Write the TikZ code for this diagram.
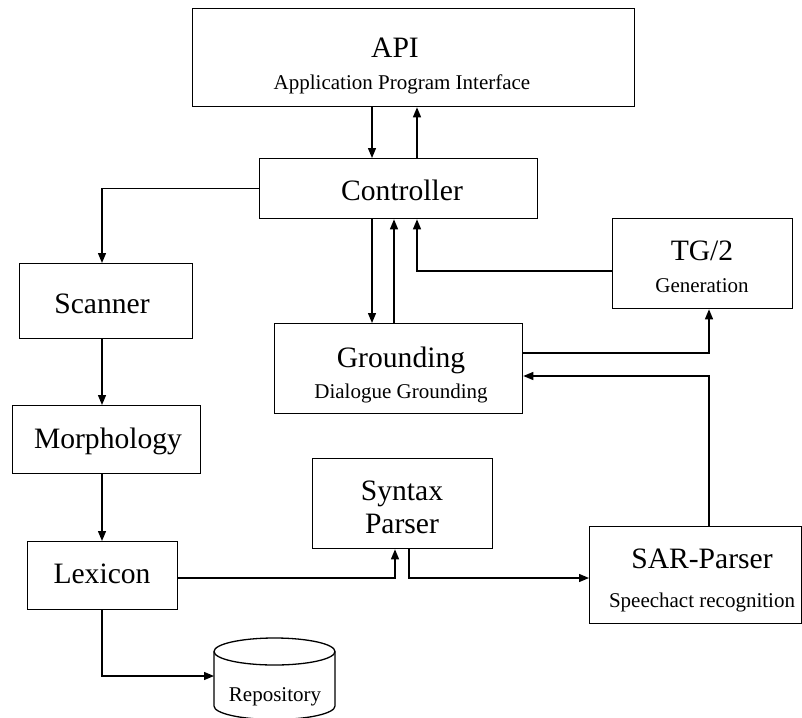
\documentclass[tikz,border=0pt]{standalone}
\usepackage{fontspec}
\setmainfont{Liberation Serif}
\usetikzlibrary{arrows.meta}

\begin{document}
\begin{tikzpicture}[x=1pt,y=-1pt,
  box/.style={draw, line width=1.3pt, rectangle, inner sep=0pt, anchor=north west},
  big/.style={font=\fontsize{29.6}{32}\selectfont, anchor=base, inner sep=0pt},
  small/.style={font=\fontsize{21}{24}\selectfont, anchor=base, inner sep=0pt},
  arr/.style={line width=1.3pt, -{Triangle[length=10pt,width=8pt]}},
  link/.style={line width=1.3pt}]
\useasboundingbox (0,0) rectangle (802,717);
\clip (0,0) rectangle (802,717);

% module boxes
\node[box, minimum width=442, minimum height=98] (api)   at (192,8)   {};
\node[box, minimum width=278, minimum height=60] (ctrl)  at (259,158) {};
\node[box, minimum width=173, minimum height=75] (scan)  at (19,263)  {};
\node[box, minimum width=188, minimum height=68] (morph) at (12,405)  {};
\node[box, minimum width=150, minimum height=68] (lex)   at (27,541)  {};
\node[box, minimum width=180, minimum height=90] (syn)   at (312,458) {};
\node[box, minimum width=212, minimum height=97] (sar)   at (589,526) {};
\node[box, minimum width=248, minimum height=90] (grd)   at (274,323) {};
\node[box, minimum width=180, minimum height=90] (tg)    at (612,218) {};

% labels
\node[big]   (apiT)  at (395,58)  {API};
\node[small] (apiS)  at (402,89)  {Application Program Interface};
\node[big]   (ctrlT) at (402,200) {Controller};
\node[big]   (scanT) at (102,313) {Scanner};
\node[big]   (morT)  at (108,448) {Morphology};
\node[big]   (lexT)  at (102,583) {Lexicon};
\node[big]   (synA)  at (402,500) {Syntax};
\node[big]   (synB)  at (402,533) {Parser};
\node[big]   (sarT)  at (702,568) {SAR-Parser};
\node[small] (sarS)  at (702,607) {Speechact recognition};
\node[big]   (grdT)  at (401,367) {Grounding};
\node[small] (grdS)  at (401,398) {Dialogue Grounding};
\node[big]   (tgT)   at (702,260) {TG/2};
\node[small] (tgS)   at (702,292) {Generation};

% repository cylinder
\draw[link, fill=white] (214,651.5) -- (214,706)
  arc[start angle=180, end angle=360, x radius=60.5pt, y radius=13.5pt] -- (335,651.5);
\draw[link, fill=white] (274.5,651.5) ellipse [x radius=60.5pt, y radius=13.5pt];
\node[small] (repoT) at (275,701) {Repository};
\coordinate (repoW) at (214,676);

% routing columns and rows
\coordinate (colA) at (102,0);
\coordinate (colB) at (372,0);
\coordinate (colC) at (394,0);
\coordinate (colD) at (417,0);
\coordinate (colE) at (395,0);
\coordinate (colF) at (409,0);
\coordinate (colG) at (709,0);
\coordinate (rowTG)  at (0,271);
\coordinate (rowGT)  at (0,353);
\coordinate (rowSG)  at (0,376);
\coordinate (rowLex) at (0,578);

% connectors
\draw[arr] (api.south -| colB) -- (ctrl.north -| colB);
\draw[arr] (ctrl.north -| colD) -- (api.south -| colD);
\draw[arr] (ctrl.west) -| (scan.north -| colA);
\draw[arr] (scan.south -| colA) -- (morph.north -| colA);
\draw[arr] (morph.south -| colA) -- (lex.north -| colA);
\draw[arr] (ctrl.south -| colB) -- (grd.north -| colB);
\draw[arr] (grd.north -| colC) -- (ctrl.south -| colC);
\draw[arr] (tg.west |- rowTG) -| (ctrl.south -| colD);
\draw[arr] (grd.east |- rowGT) -| (tg.south -| colG);
\draw[arr] (sar.north -| colG) |- (grd.east |- rowSG);
\draw[arr] (lex.east |- rowLex) -| (syn.south -| colE);
\draw[arr] (syn.south -| colF) |- (sar.west |- rowLex);
\draw[arr] (lex.south -| colA) |- (repoW);
\end{tikzpicture}
\end{document}
